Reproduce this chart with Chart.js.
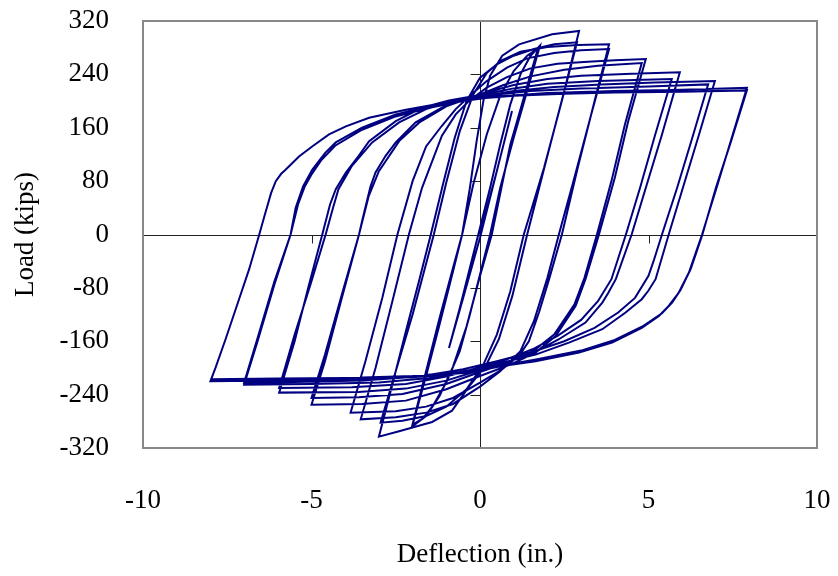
<!DOCTYPE html>
<html>
<head>
<meta charset="utf-8">
<script src="https://cdn.jsdelivr.net/npm/chart.js@4.4.0/dist/chart.umd.min.js"></script>
<style>
  body { margin: 0; background: #fff; }
  #wrap { width: 838px; height: 576px; }
</style>
</head>
<body>
<div id="wrap"><canvas id="hysteresis" width="838" height="576"></canvas></div>
<script>
// Load vs deflection, read off the picture cycle by cycle: [deflection (in.), load (kips)]
// each cycle = loading branch up to the positive peak, then unloading down to the negative peak
const cycle1in = [[0,0],[0.5,95],[0.95,185],[0.5,95],[0,-5],[-0.5,-95],[-0.92,-170]];
const cycle2inA = [[-0.6,-110],[-0.3,-50],[0,10],[0.3,70],[0.6,135],[0.9,195],[1.2,240],[1.5,268],[1.78,283],
  [1.4,215],[1.0,145],[0.6,70],[0.3,0],[0,-60],[-0.3,-120],[-0.6,-175],[-1.0,-222],[-1.4,-257],[-1.7,-276],[-2.0,-285]];
const cycle2inB = [[-1.6,-212],[-1.2,-135],[-0.8,-55],[-0.53,0],[-0.2,75],[0.2,150],[0.6,208],[1.0,245],[1.4,268],[1.72,279],
  [1.3,205],[0.9,135],[0.35,0],[0,-62],[-0.4,-138],[-0.8,-198],[-1.2,-242],[-1.6,-272],[-2.02,-288]];
const cycle3inA = [[-1.6,-205],[-1.2,-125],[-0.8,-50],[-0.53,0],[-0.3,70],[-0.1,140],[0.1,200],[0.3,238],[0.66,268],[1.16,285],[2.14,300],[2.94,305],
  [2.5,215],[2.0,118],[1.4,0],[0.96,-92],[0.56,-157],[0.17,-197],[-0.33,-228],[-0.83,-264],[-1.42,-281],[-2.4,-295],[-3.0,-303]];
const cycle3inB = [[-2.6,-225],[-2.2,-145],[-1.8,-68],[-1.46,0],[-1.1,75],[-0.75,145],[-0.4,200],[0,235],[0.5,255],[1.0,268],[1.6,278],[2.2,285],[2.88,288],
  [2.4,195],[1.9,100],[1.3,0],[0.9,-85],[0.5,-150],[0.1,-195],[-0.4,-232],[-1.0,-258],[-1.6,-272],[-2.3,-279],[-2.95,-282]];
const cycle4inA = [[-2.5,-205],[-2.0,-120],[-1.37,0],[-1.0,78],[-0.6,155],[-0.2,210],[0.2,242],[0.6,260],[1.2,274],[2.0,281],[2.9,284],[3.83,285],
  [3.4,200],[2.9,100],[2.43,0],[2.05,-67],[1.75,-117],[1.45,-160],[1.16,-182],[0.66,-202],[0,-222],[-0.8,-245],[-1.6,-258],[-2.5,-265],[-3.84,-267]];
const cycle4inB = [[-3.4,-190],[-2.9,-95],[-2.45,0],[-2.0,80],[-1.6,132],[-1.13,163],[-0.72,188],[-0.3,208],[0.2,230],[0.8,250],[1.4,264],[2.2,272],[3.0,276],[3.83,278],
  [3.3,180],[2.8,85],[2.34,0],[2.0,-65],[1.6,-130],[1.2,-175],[0.6,-205],[0,-228],[-0.8,-254],[-1.6,-267],[-2.5,-274],[-3.54,-277]];
const cycle5inA = [[-3.1,-200],[-2.6,-100],[-2.11,0],[-1.72,70],[-1.13,148],[-0.72,180],[-0.33,200],[0.2,220],[0.8,236],[1.5,249],[2.3,256],[3.2,259],[4.0,261],[4.92,263],
  [4.4,170],[4.0,85],[3.53,0],[3.13,-67],[2.84,-107],[2.25,-152],[1.65,-177],[0.9,-195],[0,-212],[-1.0,-232],[-2.2,-249],[-3.5,-254],[-5.0,-255]];
const cycle5inB = [[-4.6,-190],[-4.1,-95],[-3.59,0],[-3.5,20],[-3.25,72],[-3.1,93],[-2.8,118],[-2.5,138],[-1.91,168],[-1.13,190],[-0.53,202],[0,210],[0.7,224],[1.5,237],[2.5,247],[3.5,253],[4.8,257],
  [4.3,165],[3.9,80],[3.47,0],[3.1,-65],[2.8,-105],[2.2,-150],[1.6,-174],[0.8,-192],[0,-206],[-1.0,-224],[-2.3,-239],[-3.6,-244],[-5.0,-245]];
const cycle6inA = [[-4.6,-180],[-4.1,-90],[-3.59,0],[-3.3,58],[-3.0,95],[-2.4,140],[-1.8,168],[-1.0,192],[-0.4,203],[0.2,213],[1.0,224],[2.0,233],[3.0,238],[4.5,241],[5.93,243],
  [5.4,150],[4.95,75],[4.5,0],[4.03,-67],[3.8,-88],[3.63,-102],[3.13,-132],[2.34,-157],[1.65,-176],[0.8,-191],[0,-203],[-1.0,-219],[-2.2,-231],[-3.6,-236],[-5.96,-237]];
const cycle6inB = [[-5.5,-160],[-5.1,-80],[-4.68,0],[-4.45,45],[-4.28,68],[-3.98,93],[-3.6,118],[-3.29,140],[-2.5,170],[-1.72,190],[-0.92,201],[0,209],[1.0,219],[2.0,226],[3.5,230],[5.69,233],
  [5.2,150],[4.75,70],[4.33,0],[3.9,-67],[3.5,-100],[3.0,-128],[2.3,-152],[1.6,-171],[0.8,-187],[0,-199],[-1.0,-213],[-2.2,-224],[-3.8,-229],[-5.96,-230]];
const cycle7inA = [[-5.5,-150],[-5.0,-70],[-4.58,0],[-4.35,42],[-4.2,68],[-3.8,103],[-3.2,138],[-2.4,168],[-1.6,188],[-0.8,200],[0,207],[1.0,215],[2.2,221],[3.6,225],[5.2,228],[6.97,230],
  [6.5,150],[6.05,75],[5.6,0],[5.21,-67],[5.0,-84],[4.8,-97],[4.32,-117],[3.63,-142],[2.64,-162],[1.65,-180],[0.66,-192],[-0.3,-203],[-1.5,-215],[-3.0,-222],[-5.0,-224],[-7.0,-225]];
const cycle7inB = [[-6.6,-160],[-6.1,-75],[-5.62,0],[-5.47,40],[-5.25,72],[-4.98,97],[-4.6,122],[-4.28,138],[-3.5,160],[-2.5,180],[-1.51,192],[-0.53,202],[0.5,210],[1.5,215],[3.0,219],[5.0,222],[6.77,225],
  [6.3,145],[5.85,70],[5.4,0],[5.15,-40],[5.0,-62],[4.6,-95],[4.1,-117],[3.4,-140],[2.5,-160],[1.5,-177],[0.5,-190],[-0.5,-202],[-1.8,-213],[-3.5,-219],[-5.5,-221],[-7.0,-222]];
const cycle8inA = [[-6.6,-155],[-6.1,-70],[-5.62,0],[-5.4,45],[-5.2,72],[-5.0,90],[-4.7,112],[-4.3,133],[-3.5,157],[-2.5,177],[-1.5,190],[-0.5,200],[0.5,207],[2.0,212],[4.0,215],[6.0,217],[7.92,220],
  [7.5,150],[7.05,75],[6.59,0],[6.35,-35],[6.2,-57],[5.9,-87],[5.6,-107],[5.31,-122],[4.8,-140],[3.92,-162],[2.94,-177],[1.65,-190],[0.66,-197],[-0.33,-207],[-2.0,-214],[-4.0,-217],[-6.0,-219],[-8.0,-220]];
const cycle8inB = [[-7.85,-200],[-7.55,-157],[-7.15,-97],[-6.85,-52],[-6.55,0],[-6.4,27],[-6.2,62],[-6.06,80],[-5.9,91],[-5.77,97],[-5.37,117],[-4.98,132],[-4.48,150],[-3.98,162],[-3.29,175],[-2.2,187],[-1.0,198],[0,204],[1.0,208],[2.5,211],[4.0,213],[6.0,214],[7.92,216],
  [7.45,140],[7.0,70],[6.6,0],[6.4,-30],[6.25,-52],[5.95,-83],[5.7,-102],[5.4,-118],[4.85,-137],[4.0,-158],[3.0,-174],[1.7,-187],[0.7,-196],[-0.3,-205],[-2.0,-212],[-4.0,-215],[-6.0,-216],[-8.0,-217]];

const xTicks = [-10, -5, 0, 5, 10];
const yTicks = [-320, -240, -160, -80, 0, 80, 160, 240, 320];

const allCycles = [cycle1in, cycle2inA, cycle2inB, cycle3inA, cycle3inB, cycle4inA, cycle4inB,
  cycle5inA, cycle5inB, cycle6inA, cycle6inB, cycle7inA, cycle7inB, cycle8inA, cycle8inB];
const points = allCycles.flat().map(p => ({ x: p[0], y: p[1] }));

const serif = 'Liberation Serif, Times New Roman, serif';

// frame, zero axes and their little tick marks
const axesPlugin = {
  id: 'axesPlugin',
  beforeDatasetsDraw(chart) {
    const { ctx, chartArea: a, scales: { x, y } } = chart;
    const x0 = Math.round(x.getPixelForValue(0)) + 0.5;
    const y0 = Math.round(y.getPixelForValue(0)) + 0.5;
    ctx.save();
    ctx.strokeStyle = '#222';
    ctx.lineWidth = 1;
    ctx.beginPath();
    ctx.moveTo(a.left, y0); ctx.lineTo(a.right, y0);
    ctx.moveTo(x0, a.top); ctx.lineTo(x0, a.bottom);
    yTicks.forEach(v => {
      const py = Math.round(y.getPixelForValue(v)) + 0.5;
      ctx.moveTo(x0 - 10, py); ctx.lineTo(x0, py);
    });
    xTicks.forEach(v => {
      const px = Math.round(x.getPixelForValue(v)) + 0.5;
      ctx.moveTo(px, y0); ctx.lineTo(px, y0 + 8);
    });
    ctx.stroke();
    ctx.restore();
  },
  afterDraw(chart) {
    const { ctx, chartArea: a } = chart;
    ctx.save();
    ctx.strokeStyle = '#888';
    ctx.lineWidth = 2;
    ctx.strokeRect(a.left, a.top, a.right - a.left, a.bottom - a.top);
    ctx.restore();
  }
};

new Chart(document.getElementById('hysteresis'), {
  type: 'scatter',
  data: {
    datasets: [{
      data: points,
      showLine: true,
      borderColor: '#000080',
      borderWidth: 2,
      pointRadius: 0,
      tension: 0,
      fill: false
    }]
  },
  options: {
    responsive: false,
    animation: false,
    layout: { padding: { left: 0, right: 21, top: 21, bottom: 0 } },
    plugins: { legend: { display: false }, tooltip: { enabled: false } },
    scales: {
      x: {
        min: -10, max: 10,
        afterBuildTicks: s => { s.ticks = xTicks.map(v => ({ value: v })); },
        afterFit: s => { s.height = 128; s.paddingLeft = 0; s.paddingRight = 0; },
        grid: { display: false },
        border: { display: false },
        ticks: { color: '#000', font: { family: serif, size: 27 }, padding: 29, maxRotation: 0 },
        title: { display: true, text: 'Deflection (in.)', color: '#000', font: { family: serif, size: 27 }, padding: { top: 0, bottom: 5 } }
      },
      y: {
        min: -320, max: 320,
        afterBuildTicks: s => { s.ticks = yTicks.map(v => ({ value: v })); },
        afterFit: s => { s.width = 143; s.paddingTop = 0; s.paddingBottom = 0; },
        grid: { display: false },
        border: { display: false },
        ticks: { color: '#000', font: { family: serif, size: 27 }, padding: 26 },
        title: { display: true, text: 'Load (kips)', color: '#000', font: { family: serif, size: 27 }, padding: { top: 10, bottom: 0 } }
      }
    }
  },
  plugins: [axesPlugin]
});
</script>
</body>
</html>
